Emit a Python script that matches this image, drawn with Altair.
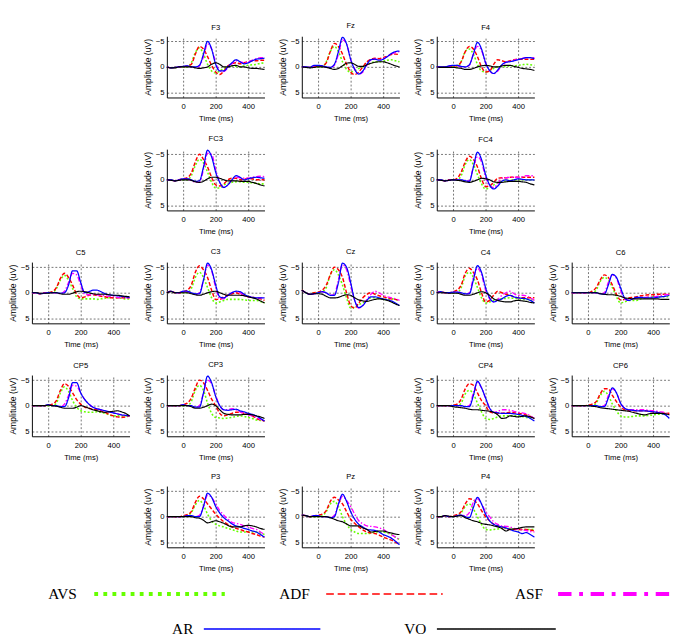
import altair as alt
import pandas as pd

TIME = [-100, -75, -50, -25, 0, 25, 50, 75, 100, 125, 150, 175, 200,
        225, 250, 275, 300, 325, 350, 375, 400, 425, 450, 475, 500]
SERIES = ["AVS", "ADF", "ASF", "AR", "VO"]
COLORS = ["#66ff00", "#ff0000", "#ff00ff", "#0000ff", "#000000"]

F3 = {
    "AR":  [0,0.2,0.1,0,-0.1,-0.2,0,0,-0.3,-2.5,-5,-3.5,-0.5,0.8,0.8,0,-0.8,-1.4,-1,-0.6,-0.8,-1.2,-1.5,-1.6,-1.7],
    "ASF": [0,0.2,0.1,0,-0.1,-0.1,0,0.1,-0.2,-2,-4.5,-3.5,-0.8,0.8,0.9,0.2,-0.6,-1.2,-1,-0.8,-1,-1.3,-1.6,-1.8,-1.8],
    "ADF": [0,0.2,0.1,0,0,-0.2,-0.5,-2.5,-4,-3.5,-2,-0.3,1,1.5,0.8,-0.2,-0.6,-0.8,-0.6,-0.8,-1,-1.2,-1.2,-1.3,-1.3],
    "AVS": [0,0.2,0.1,0,0,0,-0.8,-2.8,-3.7,-2.5,-0.5,0.8,1.2,0.8,0.3,0,-0.2,-0.1,0,-0.2,-0.3,-0.4,-0.5,-0.7,-0.8],
    "VO":  [0,0.2,0.2,0,0,0,0,0.2,0.3,0.2,0,-0.5,-0.8,-0.5,0,0,-0.2,-0.3,0,0,0.2,0.3,0.3,0.4,0.5],
}
Fz = {
    "AR":  [0,0,0.1,-0.3,-0.3,-0.2,0,0.1,-0.5,-3,-5.8,-4.5,-1.5,0.5,1.4,0.8,-0.5,-1.4,-1.5,-1.3,-1.5,-2,-2.6,-3,-3.1],
    "ASF": [0,0,0.1,-0.2,-0.2,-0.1,0,0.1,-0.3,-2.5,-5.3,-4.5,-1.5,0.4,1.4,1,-0.3,-1.3,-1.5,-1.4,-1.6,-2,-2.5,-2.8,-3],
    "ADF": [0,0,0.1,0,-0.1,-0.2,-0.8,-3,-4.6,-4,-2.5,-0.5,1,1.5,1,0,-1,-1.5,-1.7,-1.6,-1.8,-2.1,-2.4,-2.5,-2.4],
    "AVS": [0,0,0.1,0,0,0,-1,-3,-4,-3,-1,0.5,1,0.8,0.3,0,-0.4,-0.8,-1,-1,-1.1,-1.3,-1.4,-1.2,-1],
    "VO":  [0,0.1,0.2,0.1,0,0,0.1,0.3,0.5,0.3,-0.2,-0.7,-0.8,-0.5,-0.1,-0.1,-0.4,-0.7,-0.9,-1,-1,-0.8,-0.5,-0.2,0],
}
F4 = {
    "AR":  [0,0,0,-0.2,-0.3,-0.3,-0.1,0,-0.4,-2.5,-4.8,-3.5,-0.8,0.7,1.3,0.6,-0.4,-0.9,-1,-1.2,-1.4,-1.6,-1.8,-1.8,-1.6],
    "ASF": [0,0,0,-0.1,-0.2,-0.2,0,0,-0.3,-2.5,-4,-3.2,-0.8,0.8,1.3,0.8,-0.2,-0.9,-1.1,-1.3,-1.5,-1.7,-1.8,-1.8,-1.8],
    "ADF": [0,0,0,0,-0.1,-0.3,-1,-3,-4,-3.5,-2,0,1,0.8,-0.5,-1.4,-1.2,-1,-1.2,-1.4,-1.5,-1.5,-1.5,-1.5,-1.5],
    "AVS": [0,0,0,0,0,0,-1,-3,-3.5,-2.5,-0.5,0.8,1,0.8,0.3,0,0,-0.1,-0.2,-0.2,-0.3,-0.4,-0.5,-0.4,-0.3],
    "VO":  [0,0.1,0.1,0.1,0.1,0.2,0.3,0.5,0.5,0.3,0,-0.2,-0.3,-0.2,0,0,-0.2,-0.3,-0.3,-0.1,0.1,0.3,0.4,0.5,0.7],
}
FC3 = {
    "AR":  [0,0,0.2,0,-0.2,-0.2,0,0.3,0.2,-2.5,-5.8,-4.5,-1.5,0.5,1.5,1,0,-0.8,-0.5,0,-0.2,-0.4,-0.5,-0.4,-0.3],
    "ASF": [0,0,0.2,0,-0.1,-0.1,0.1,0.5,0.5,-2,-5.2,-5,-2,0.5,1.5,1,0,-0.5,-0.4,-0.3,-0.3,-0.5,-0.6,-0.7,-0.6],
    "ADF": [0,0,0.2,0,-0.2,-0.4,-1.3,-3.5,-5,-4,-2.5,-0.5,1,1.2,0.8,0,-0.3,-0.3,0,-0.1,-0.3,-0.2,0,0,0],
    "AVS": [0,0,0.2,0,0,0,-0.8,-2.8,-4,-3.3,-1.5,0.5,1.6,1.6,1,0.7,0.5,0.4,0.4,0.5,0.5,0.6,0.7,0.8,0.8],
    "VO":  [0,0.1,0.2,0.1,0,0,0.1,0.4,0.5,0.3,-0.2,-0.5,-0.5,-0.3,0,0.2,0.2,0.2,0.3,0.3,0.3,0.5,0.7,1,1.2],
}
FC4 = {
    "AR":  [0,0,0.2,0.1,0,0,0,0.2,0.3,-2.5,-5.4,-4,-1,1,1.8,1.2,0.3,0,0.2,0,-0.2,-0.1,0,0,0],
    "ASF": [0,0,0.2,0.1,0,0,0,0.2,0.2,-2.5,-4.5,-3.5,-0.5,1.2,1.5,0.8,-0.3,-0.4,-0.5,-0.5,-0.5,-0.6,-0.8,-0.8,-0.8],
    "ADF": [0,0,0.2,0,0,-0.3,-1.5,-3.5,-4.6,-4,-2.5,-0.2,1.3,1.2,0.5,-0.3,-0.4,-0.4,-0.5,-0.5,-0.5,-0.5,-0.5,-0.5,-0.5],
    "AVS": [0,0,0.2,0,0,0,-0.8,-3,-4,-3,-1,0.8,1.8,1.5,1,0.6,0.3,0.2,0.1,0,0,0,0,0,0],
    "VO":  [0,0.1,0.2,0.1,0,0.1,0.2,0.4,0.5,0.3,0,-0.3,-0.2,0,0.4,0.5,0.5,0.4,0.3,0.3,0.3,0.4,0.5,0.8,1],
}
C5 = {
    "AR":  [0,0,0.2,0.1,0,0,0,0.1,0,-1.5,-4.3,-4.3,-2,0,-0.2,-0.5,-0.5,-0.2,0.2,0.4,0.5,0.6,0.7,0.8,0.9],
    "ASF": [0,0,0.2,0.1,0,0,0,0.2,-0.3,-2,-3.8,-3.5,-1.5,0.3,0.4,0.3,0.4,0.5,0.6,0.7,0.8,0.9,1,1,1],
    "ADF": [0,0,0.2,0,0,-0.2,-1,-2.8,-3.8,-3,-1.5,0.3,1,0.8,0.5,0.4,0.5,0.7,0.8,1,1,1,1,1,1],
    "AVS": [0,0,0.2,0,0,0,-0.8,-2.5,-3.4,-2.5,-0.8,0.8,1.2,1.2,1.2,1.2,1.3,1.2,1.1,1,1,1,1.1,1.2,1.2],
    "VO":  [0,0,0.1,0.1,0.1,0,0,0.2,0.3,0.3,0.1,-0.2,-0.3,-0.2,0,0.2,0.3,0.3,0.3,0.4,0.5,0.5,0.6,0.7,0.8],
}
C3 = {
    "AR":  [0,-0.3,0,0,-0.3,-0.3,0,0.2,0.2,-2.5,-5.8,-4.5,-1.5,0.8,1,0.5,0,-0.3,-0.2,0.3,0.7,0.9,1,1,1],
    "ASF": [0,-0.3,0,0,-0.2,-0.2,0,0.3,0,-2.5,-5.4,-4.3,-1,1.2,1.2,0.5,0,-0.2,0,0.5,0.8,0.9,1,1,1],
    "ADF": [0,-0.3,0,0,-0.2,-0.5,-1.5,-4,-5.3,-4.5,-3,-0.5,1.3,1.3,0.8,0.5,0.2,0,0.3,0.5,0.8,0.9,1,1.2,1.5],
    "AVS": [0,-0.3,0,0,0,0,-0.8,-3,-4,-3,-1,1,2,1.8,1.5,1.3,1.3,1.3,1.3,1.4,1.5,1.5,1.5,1.7,2],
    "VO":  [0,-0.2,0,0,0,0,0.2,0.4,0.5,0.3,0,-0.2,-0.3,0,0.3,0.5,0.5,0.5,0.5,0.6,0.8,1,1.2,1.6,2],
}
Cz = {
    "AR":  [-0.5,0,0.3,0.2,0,-0.2,0,0.5,0.5,-2,-5.8,-5,-2,1.5,2.9,2.5,1.5,0.8,0.8,1,1.2,1.4,1.6,2,2.5],
    "ASF": [-0.5,0,0.3,0.2,0,-0.2,0,0.5,0.3,-2.5,-5.5,-4.5,-1.5,1.5,3,2.5,1.3,0.3,-0.3,0,0.5,0.8,1,1.2,1.5],
    "ADF": [-0.5,0,0.3,0,-0.1,-0.5,-1.5,-3.5,-5,-4.5,-3,0,2.5,3,2,1,0.3,0,0.3,0.6,0.8,1,1.2,1.3,1.5],
    "AVS": [-0.5,0,0.3,0,0,-0.2,-1,-3.5,-4.5,-3.5,-1.5,1,3,2.8,2.3,2,1.5,1,1,1.2,1.3,1.3,1.2,1.3,1.5],
    "VO":  [-0.5,0,0.3,0.2,0.2,0.3,0.7,1,1,0.9,0.6,0.4,0.5,1,1.4,1.6,1.7,1.5,1.3,1.2,1.3,1.5,1.8,2.2,2.5],
}
C4 = {
    "AR":  [0,-0.2,0,0,-0.1,-0.1,0,0.2,0.2,-2.5,-5.3,-4,-1,1,1.8,1.5,1.2,0.7,0.5,0.8,1,1.1,1.2,1.5,2],
    "ASF": [0,-0.2,0,0,-0.1,-0.1,0,0.3,0,-3,-4.8,-3.5,-0.5,1.2,1.8,1.3,0.5,0,-0.3,0.2,0.5,0.5,0.6,1,1.5],
    "ADF": [0,-0.2,0,0,-0.2,-0.5,-1.5,-3.8,-4.8,-4,-2.5,0,1.8,1.5,0.5,-0.3,0,0.3,0.5,0.8,1,1,1,1,1],
    "AVS": [0,-0.2,0,0,0,0,-1,-3.3,-4,-3,-1,1,2,1.8,1.5,1.3,1.2,1.1,1,1.1,1.2,1.3,1.3,1.4,1.5],
    "VO":  [0,0,0,0.1,0.1,0.1,0.3,0.5,0.5,0.3,0,-0.2,0,0.5,1.2,1.5,1.7,1.8,1.8,1.6,1.5,1.6,1.7,1.9,2],
}
C6 = {
    "AR":  [0,0,0,0,0,0,0,0.2,0.3,-1.5,-3.6,-3,-1,1,1.5,1.2,0.9,0.9,1,1,1,0.9,0.8,0.7,0.5],
    "ASF": [0,0,0,0,0,0,0,0.2,0,-2,-3.5,-2.8,-0.5,1.3,1.4,1.2,1,0.9,0.9,0.8,0.8,0.7,0.5,0.4,0.3],
    "ADF": [0,0,0,0,0,-0.3,-1,-2.5,-3.5,-3,-1.5,0.3,1.4,1.3,1,0.9,0.8,0.6,0.5,0.4,0.4,0.3,0.3,0.3,0.3],
    "AVS": [0,0,0,0,0,0,-0.5,-2.2,-3,-2.5,-1,0.8,2,1.8,1.5,1.5,1.5,1.2,1,0.9,0.8,0.8,0.8,0.8,0.8],
    "VO":  [0,0,0,0,0,0,0,0.2,0.3,0.4,0.4,0.5,0.7,1,1.1,1.2,1.2,1.2,1.2,1.2,1.2,1.2,1.3,1.3,1.3],
}
CP5 = {
    "AR":  [0,0,0,0,-0.2,0,0,0.2,0.2,-1.5,-4.5,-4.5,-2.5,-1.2,-0.3,0.3,0.6,0.8,1,1.2,1.4,1.6,1.8,1.9,2],
    "ASF": [0,0,0,0,-0.1,0,0,0.2,-0.3,-2,-4,-3.8,-2.5,-1.2,-0.3,0.3,0.6,0.8,1,1.2,1.4,1.6,1.8,1.9,2],
    "ADF": [0,0,0,0,-0.1,-0.3,-1,-3,-4.3,-3.8,-2.5,-1.2,-0.3,0.3,0.5,0.7,0.8,1,1.3,1.7,2,2.2,2.3,2.2,2],
    "AVS": [0,0,0,0,0,0,-0.5,-2.5,-3.7,-2.8,-1,0.3,1,1.2,1.3,1.3,1.2,1.3,1.5,1.8,2,2,2,2,2],
    "VO":  [0,0,0,0,-0.1,0,0.1,0.3,0.5,0.5,0.5,0.3,0,0.2,0.5,0.8,1,1.2,1.3,1.2,1.1,1,1.2,1.5,2],
}
CP3 = {
    "AR":  [0,0,0,0,-0.2,0,0,0.3,0.3,-2.5,-5.8,-4.5,-1.8,0,0.8,0.9,0.8,0.7,1,1.2,1.5,1.7,2,2.5,3],
    "ASF": [0,0,0,0,-0.1,0,0,0.3,0,-2.5,-5,-4.3,-2,0,0.8,0.8,0.6,0.8,1.2,1.5,1.8,2,2.3,2.7,3],
    "ADF": [0,0,0,0,-0.2,-0.5,-1.5,-3.5,-5,-4.5,-3,-1.3,0,1.5,2,1.8,1.5,1.3,1.3,1.5,1.7,2,2.5,2.8,3],
    "AVS": [0,0,0,0,0,0,-0.8,-3,-4,-3,-0.5,1.5,2.3,2.4,2.5,2.4,2.3,2.1,2,2.1,2.3,2.5,2.8,2.9,3],
    "VO":  [0,0,0,0,0,0,0.2,0.5,0.5,0.3,0,-0.3,0,0.8,1.5,1.7,1.8,1.8,1.8,1.7,1.7,1.8,2,2.2,2.5],
}
CP4 = {
    "AR":  [0,0,0,0,0,0,0,0.2,0.2,-2,-4.8,-3.5,-1.5,0.5,1.3,1.4,1.5,1.5,1.5,1.6,1.7,1.9,2.1,2.5,3],
    "ASF": [0,0,0,0,0,0,0,0.2,0,-2.5,-4.5,-3.5,-1.5,0.5,1.3,1.1,0.8,0.8,0.9,1.1,1.3,1.4,1.6,2,2.5],
    "ADF": [0,0,0,0,-0.1,-0.3,-1.3,-3.3,-4.3,-4,-2.5,-1,0,1.2,1.4,1.5,1.5,1.4,1.3,1.4,1.5,1.6,1.8,2.1,2.5],
    "AVS": [0,0,0,0,0,0,-0.5,-2.3,-3,-2.3,-0.5,1.2,2.5,2.7,2.5,2.2,2,2,2,2,2,2.1,2.3,2.4,2.5],
    "VO":  [0,0,0,0,0.2,0.3,0.4,0.5,0.7,0.8,0.8,0.9,1,1.1,1.3,1.8,2.5,2.4,2,2.1,2.2,2.1,2,2.2,2.5],
}
CP6 = {
    "AR":  [0,0,0,0,0,0,0,0.2,0.2,-1.5,-3.5,-2.5,-0.5,0.5,0.8,0.9,1,1,1,1.1,1.2,1.3,1.5,1.8,2.5],
    "ASF": [0,0,0,0,0,0,0,0.2,0,-2,-3.3,-2.5,-0.5,0.5,0.8,0.8,0.8,0.8,0.8,0.9,1,1.1,1.2,1.4,1.8],
    "ADF": [0,0,0,0,-0.1,-0.3,-0.8,-2.3,-3.3,-3.3,-2,-0.8,0.3,0.8,1,1,1,1,1,1.1,1.2,1.3,1.5,1.5,1.5],
    "AVS": [0,0,0,0,0,0,-0.5,-2,-2.8,-2,-0.3,1,2,2.2,2.2,2.1,2,2,2,1.9,1.8,1.7,1.7,1.6,1.5],
    "VO":  [0,0,0,0,0,0.1,0.2,0.4,0.5,0.6,0.7,0.8,0.9,1,1.1,1.3,1.5,1.7,1.8,1.6,1.5,1.5,1.5,1.6,1.8],
}
P3 = {
    "AR":  [0,0,0,0,0,-0.2,-0.2,0,0,-2,-4.6,-3.8,-2,-0.7,0.2,0.8,1.4,1.8,2,2.3,2.5,2.8,3,3.5,4],
    "ASF": [0,0,0,0,0,-0.2,-0.2,0,-0.3,-2,-4.2,-3.8,-2.5,-1.2,-0.3,0.5,1.1,1.3,1.5,1.8,2,2.3,2.5,3,3.5],
    "ADF": [0,0,0,0,-0.2,-0.4,-1,-2.8,-4,-3.5,-2.5,-1.5,-0.5,0.3,1,1.5,2,2.3,2.5,2.8,3,3.3,3.5,3.8,4],
    "AVS": [0,0,0,0,0,-0.2,-0.8,-2.3,-3.2,-2.2,-0.5,0.8,1.5,1.8,2,2.3,2.5,2.8,3,3,3,3,3,3.2,3.5],
    "VO":  [0,0,0,0,0,0,0,0.2,0.3,0.7,1.2,1,0.8,1,1.3,1.7,2,2,2,1.8,1.7,1.8,2,2.3,2.5],
}
Pz = {
    "AR":  [-0.3,-0.2,0,-0.2,-0.2,0,0,0.2,0,-2.5,-4.4,-3,-1,0.5,1.5,2,2.5,2.6,2.7,3,3.5,3.8,4.2,4.8,5.5],
    "ASF": [-0.3,-0.2,0,-0.2,-0.2,0,0,0.2,-0.3,-2.3,-4,-3.2,-2,-0.5,0.8,1.4,1.8,1.9,2,2.2,2.5,3,3.5,4,4.5],
    "ADF": [-0.3,-0.2,0,-0.2,-0.3,-0.5,-1.2,-3,-3.8,-3.3,-2.5,-1,0.5,1.3,2,2.6,3,3.2,3.3,3.6,4,4.3,4.6,5,5.5],
    "AVS": [-0.3,-0.2,0,0,0,-0.2,-1,-2.5,-3,-2,0,1.5,2.5,3,3.3,3.3,3.3,3.2,3,3,3,3.2,3.5,4,4.5],
    "VO":  [-0.3,-0.2,0,0,0,0,0,0.2,0.5,0.8,1,1.4,1.8,1.8,1.8,2.2,2.5,3,2.9,2.8,2.8,3,3.2,3.4,3.5],
}
P4 = {
    "AR":  [0,0,-0.2,0,0,-0.2,-0.3,0,0.2,-1.8,-3.8,-2.5,-0.5,0.8,1.5,1.8,2,2.2,2.5,2.8,3,3.3,3.1,3.5,4],
    "ASF": [0,0,-0.2,0,0,-0.2,-0.3,-0.2,-0.8,-2.8,-3.5,-2.5,-1,0,1,1.5,1.8,1.9,2,2.3,2.5,2.6,2.7,2.9,3],
    "ADF": [0,0,-0.2,0,-0.2,-0.4,-1,-2.5,-3.5,-3.3,-2.5,-1.2,0,0.8,1.5,1.8,2,2.3,2.5,2.5,2.5,2.5,2.5,2.6,2.8],
    "AVS": [0,0,-0.2,0,0,-0.2,-0.8,-2,-2.5,-1.5,0,1.5,2.5,2.6,2.5,2.4,2.3,2.3,2.3,2.4,2.5,2.5,2.5,2.5,2.5],
    "VO":  [0,0,-0.2,-0.1,0,-0.1,-0.2,0.2,0.5,0.8,1,1.3,1.5,1.6,1.8,2,2.3,2.8,2.5,2.4,2.3,2.1,2,2,2],
}

PANELS = {"F3": F3, "Fz": Fz, "F4": F4, "FC3": FC3, "FC4": FC4,
          "C5": C5, "C3": C3, "Cz": Cz, "C4": C4, "C6": C6,
          "CP5": CP5, "CP3": CP3, "CP4": CP4, "CP6": CP6,
          "P3": P3, "Pz": Pz, "P4": P4}

GRID = [
    [None, "F3", "Fz", "F4", None],
    [None, "FC3", None, "FC4", None],
    ["C5", "C3", "Cz", "C4", "C6"],
    ["CP5", "CP3", None, "CP4", "CP6"],
    [None, "P3", "Pz", "P4", None],
]

# legend layout: slot of each label, row, where its line starts and its length (in slot units)
LEGEND_SLOT = [0, 2, 4, 1, 3]
LEGEND_ROW = [0, 0, 0, 1, 1]
LEGEND_GAP = [0.15, 0.14, 0.13, 0.09, 0.09]
LEGEND_LEN = [1.12, 1.0, 1.0, 1.0, 1.02]

# styles
PANEL_DASH = [[2, 2], [4, 2], [5, 2, 1.5, 2], [1, 0], [1, 0]]
PANEL_WIDTH = [1.6, 1.2, 1.6, 1.3, 1.8]
LEG_DASH = [[4, 5.5], [8, 4], [14, 8, 4, 8], [1, 0], [1, 0]]
LEG_WIDTH = [4, 1.5, 4, 1.6, 1.6]

W, H = 102, 64
FONT = "Liberation Sans"

rows = []
for name, d in PANELS.items():
    for s in SERIES:
        for t, v in zip(TIME, d[s]):
            rows.append({"panel": name, "series": s, "time": t, "amp": v})
df = pd.DataFrame(rows)


def panel(name, visible=True):
    src = name if visible else "F3"
    op = 1 if visible else 0
    return alt.Chart(
        df[df["panel"] == src],
        title=alt.TitleParams(src, fontSize=8, fontWeight="normal", font=FONT,
                              offset=5, frame="group",
                              color="black" if visible else "white"),
    ).mark_line(interpolate="monotone", opacity=op).encode(
        x=alt.X("time:Q", scale=alt.Scale(domain=[-100, 500], nice=False, zero=False),
                axis=alt.Axis(values=[0, 200, 400], title="Time (ms)",
                              labelPadding=6, titlePadding=4,
                              labelOpacity=op, titleOpacity=op,
                              domainOpacity=op, gridOpacity=op)),
        y=alt.Y("amp:Q", scale=alt.Scale(domain=[-6, 6], reverse=True, nice=False, zero=False),
                axis=alt.Axis(values=[-5, 0, 5], title="Amplitude (uV)",
                              labelPadding=3, titlePadding=3, titleFontSize=9,
                              labelOpacity=op, titleOpacity=op,
                              domainOpacity=op, gridOpacity=op)),
        color=alt.Color("series:N", scale=alt.Scale(domain=SERIES, range=COLORS), legend=None),
        strokeDash=alt.StrokeDash("series:N", scale=alt.Scale(domain=SERIES, range=PANEL_DASH), legend=None),
        strokeWidth=alt.StrokeWidth("series:N", scale=alt.Scale(domain=SERIES, range=PANEL_WIDTH), legend=None),
    ).properties(width=W, height=H)


cells = []
for r in GRID:
    for name in r:
        cells.append(panel(name) if name else panel(None, visible=False))

grid = alt.concat(*cells, columns=5, spacing=alt.RowColnumber(row=13, column=10))

leg_df = pd.DataFrame({"series": SERIES, "slot": LEGEND_SLOT, "row": LEGEND_ROW,
                       "gap": LEGEND_GAP, "len": LEGEND_LEN})
xs = alt.Scale(domain=[-0.385, 4.871], nice=False, zero=False)
ys = alt.Scale(domain=[-0.35, 1.35], reverse=True, nice=False, zero=False)
leg_base = alt.Chart(leg_df).transform_calculate(
    x0="datum.slot + datum.gap", x1="datum.slot + datum.gap + datum.len"
)
leg_text = leg_base.mark_text(align="right", baseline="middle", font="Liberation Serif",
                              fontSize=16, color="black").encode(
    x=alt.X("slot:Q", scale=xs, axis=None),
    y=alt.Y("row:Q", scale=ys, axis=None),
    text="series:N",
)
leg_lines = []
for s, c, dsh, w in zip(SERIES, COLORS, LEG_DASH, LEG_WIDTH):
    leg_lines.append(
        leg_base.transform_filter(alt.datum.series == s).mark_rule(
            color=c, strokeDash=dsh, strokeWidth=w
        ).encode(
            x=alt.X("x0:Q", scale=xs, axis=None),
            x2="x1:Q",
            y=alt.Y("row:Q", scale=ys, axis=None),
        )
    )
legend = alt.layer(leg_text, *leg_lines).properties(width=640, height=62)

chart = alt.vconcat(grid, legend, spacing=10).resolve_scale(
    x="independent", y="independent"
).properties(padding=0).configure_view(stroke=None).configure_axis(
    domainColor="black", domainWidth=1, grid=True, gridColor="#333333",
    gridDash=[2, 2], gridWidth=0.7, ticks=False,
    labelFont=FONT, labelFontSize=8, labelColor="black",
    titleFont=FONT, titleFontSize=8, titleFontWeight="normal", titleColor="black",
)

chart.save("out.html", embed_options={"renderer": "svg", "actions": False})
